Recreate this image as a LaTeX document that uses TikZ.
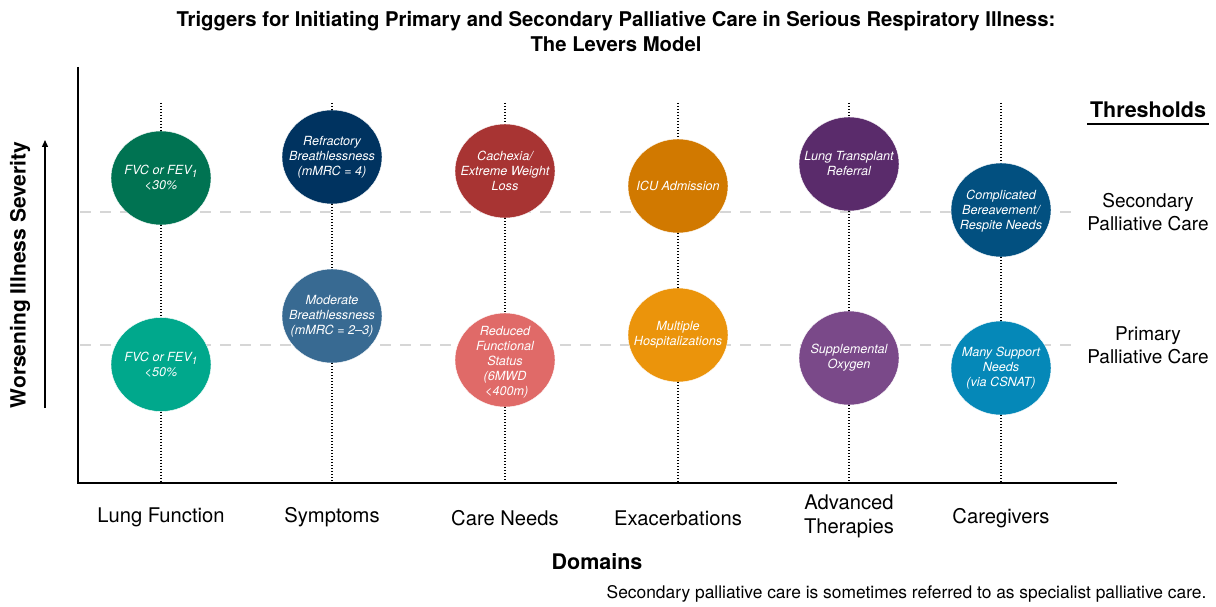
\documentclass[tikz,border=0pt]{standalone}
\usepackage{fontspec}
\setmainfont{TeX Gyre Heros}
\usetikzlibrary{shapes.geometric,arrows.meta}
\definecolor{lungT}{RGB}{0,115,82}
\definecolor{lungB}{RGB}{0,168,140}
\definecolor{symT}{RGB}{0,51,96}
\definecolor{symB}{RGB}{56,106,146}
\definecolor{careT}{RGB}{168,52,51}
\definecolor{careB}{RGB}{224,106,104}
\definecolor{exaT}{RGB}{209,121,0}
\definecolor{exaB}{RGB}{235,148,11}
\definecolor{advT}{RGB}{90,43,107}
\definecolor{advB}{RGB}{122,73,137}
\definecolor{cgT}{RGB}{2,80,128}
\definecolor{cgB}{RGB}{5,136,184}
\definecolor{thrgray}{RGB}{214,214,214}
\newcommand{\subone}{\raisebox{-0.45ex}{\fontsize{10.5}{10.5}\selectfont 1}}
\begin{document}
\begin{tikzpicture}[x=1pt,y=-1pt,
  lever/.style={ellipse, minimum width=100pt, minimum height=94pt, inner sep=0pt, draw=white, line width=0.4pt},
  levertext/.style={text=white, font=\fontsize{12.6}{15}\selectfont\itshape, align=center, inner sep=0pt},
  leverline/.style={black, line width=1.1pt, dash pattern=on 1.1pt off 1.9pt},
  threshold/.style={thrgray, line width=1.8pt, dash pattern=on 11pt off 9pt},
  axisline/.style={black, line width=2pt},
  domainlabel/.style={font=\fontsize{20.2}{24}\selectfont, align=center},
  thrlabel/.style={font=\fontsize{19}{23}\selectfont, align=center}]
\useasboundingbox (0,0) rectangle (1216,607);

% title
\node[font=\bfseries\fontsize{20.3}{25}\selectfont, align=center] (title) at (616,31.5)
  {Triggers for Initiating Primary and Secondary Palliative Care in Serious Respiratory Illness:\\The Levers Model};

% thresholds (background)
\coordinate (sec-l) at (80,212);
\coordinate (sec-r) at (1072,212);
\coordinate (pri-l) at (80,345);
\coordinate (pri-r) at (1072,345);
\draw[threshold] (sec-l) -- (sec-r);
\draw[threshold] (pri-l) -- (pri-r);

% axes
\coordinate (ax-top) at (78,67);
\coordinate (ax-o) at (78,483);
\coordinate (ax-r) at (1117,483);
\draw[axisline] (ax-top) -- (ax-o) -- (ax-r);

% severity arrow
\coordinate (arr-b) at (45,408);
\coordinate (arr-t) at (45,140);
\draw[line width=1.4pt, -{Triangle[length=7pt,width=6pt]}] (arr-b) -- (arr-t);
\node[rotate=90, font=\bfseries\fontsize{21}{21}\selectfont] (sev) at (20,275) {Worsening Illness Severity};

% circles
\node[lever, fill=lungT] (lungT) at (161,178) {};
\node[lever, fill=lungB] (lungB) at (161,364.5) {};
\node[lever, fill=symT] (symT) at (332,157) {};
\node[lever, fill=symB] (symB) at (332,316) {};
\node[lever, fill=careT] (careT) at (505,171) {};
\node[lever, fill=careB] (careB) at (505,360) {};
\node[lever, fill=exaT] (exaT) at (678,186) {};
\node[lever, fill=exaB] (exaB) at (678,335) {};
\node[lever, fill=advT] (advT) at (849,164) {};
\node[lever, fill=advB] (advB) at (849,358) {};
\node[lever, fill=cgT] (cgT) at (1001,210) {};
\node[lever, fill=cgB] (cgB) at (1001,368) {};

% dotted lever lines
\foreach \c/\x in {lung/161,sym/332,care/505,exa/678,adv/849,cg/1001}{
  \coordinate (\c-top) at (\x,103);
  \coordinate (\c-bot) at (\x,483);
  \draw[leverline] (\c-top) -- (\c T);
  \draw[leverline] (\c T) -- (\c B);
  \draw[leverline] (\c B) -- (\c-bot);
}

% circle texts
\node[levertext] (lungT-t) at (lungT) {FVC or FEV\subone\\<30\%};
\node[levertext] (lungB-t) at (lungB) {FVC or FEV\subone\\<50\%};
\node[levertext] (symT-t) at (symT) {Refractory\\Breathlessness\\(mMRC = 4)};
\node[levertext] (symB-t) at (symB) {Moderate\\Breathlessness\\(mMRC = 2–3)};
\node[levertext] (careT-t) at (careT) {Cachexia/\\Extreme Weight\\Loss};
\node[levertext] (careB-t) at ([yshift=-2pt]careB.center) {Reduced\\Functional\\Status\\(6MWD\\\ <400m)};
\node[levertext] (exaT-t) at (exaT) {ICU Admission};
\node[levertext] (exaB-t) at (exaB) {Multiple\\Hospitalizations};
\node[levertext] (advT-t) at (advT) {Lung Transplant\\Referral};
\node[levertext] (advB-t) at (advB) {Supplemental\\Oxygen};
\node[levertext] (cgT-t) at ([yshift=-1.5pt]cgT.center) {Complicated\\Bereavement/\\Respite Needs};
\node[levertext] (cgB-t) at (cgB) {Many Support\\Needs\\(via CSNAT)};

% threshold labels
\node[font=\bfseries\fontsize{21.5}{21.5}\selectfont] (thr) at (1148,110) {Thresholds};
\coordinate (thr-ul) at (1087,124);
\coordinate (thr-ur) at (1209,124);
\draw[line width=2pt] (thr-ul) -- (thr-ur);
\node[thrlabel] (sec) at (1148,212.5) {Secondary\\Palliative Care};
\node[thrlabel] (pri) at (1148,345.5) {Primary\\Palliative Care};

% domain labels
\node[domainlabel] (d1) at (161,517) {Lung Function};
\node[domainlabel] (d2) at (332,517) {Symptoms};
\node[domainlabel] (d3) at (505,518) {Care Needs};
\node[domainlabel] (d4) at (678,518) {Exacerbations};
\node[domainlabel] (d5) at (849,516) {Advanced\\Therapies};
\node[domainlabel] (d6) at (1001,518) {Caregivers};
\node[font=\bfseries\fontsize{21.5}{22}\selectfont] (dom) at (597,562) {Domains};
\node[anchor=east, font=\fontsize{17.4}{18}\selectfont] (foot) at (1210,594)
  {Secondary palliative care is sometimes referred to as specialist palliative care.};
\end{tikzpicture}
\end{document}
